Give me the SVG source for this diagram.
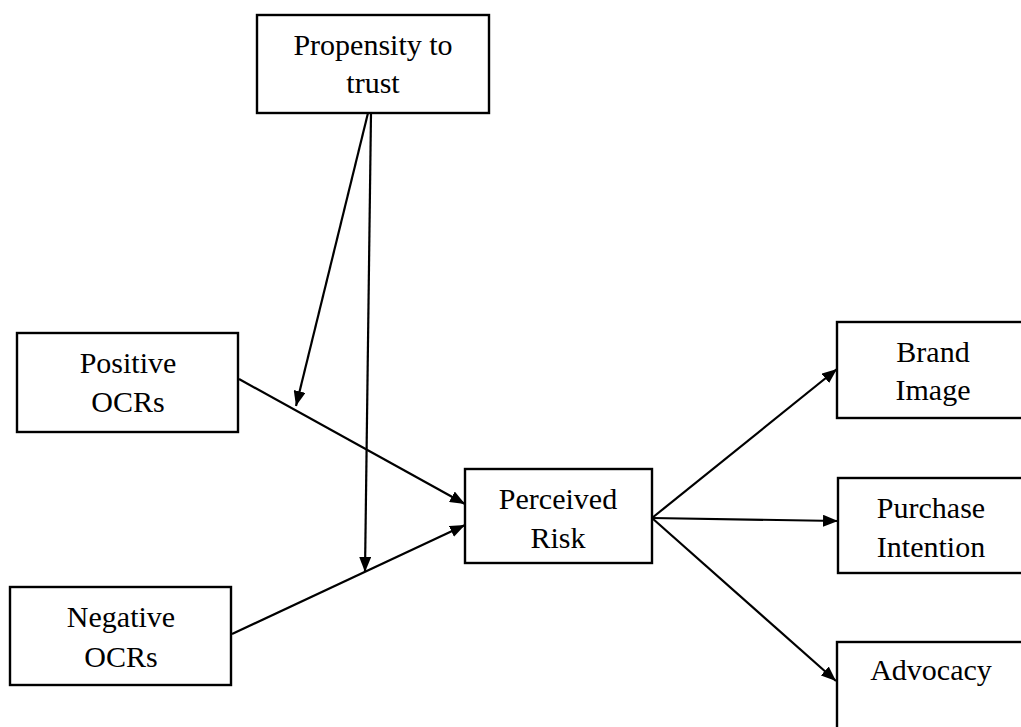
<svg xmlns="http://www.w3.org/2000/svg" width="1021" height="727" viewBox="0 0 1021 727">
<style>
.box{fill:#fff;stroke:#000;stroke-width:2.4}
.t{font-family:"Liberation Serif","Times New Roman",serif;font-size:30px;fill:#000;text-anchor:middle}
.c{stroke:#000;stroke-width:2.2;fill:none;marker-end:url(#ah)}
</style>
<defs>
<marker id="ah" markerUnits="userSpaceOnUse" markerWidth="16" markerHeight="12" refX="15" refY="6" orient="auto">
<path d="M0,0 L15,6 L0,12 Z" fill="#000"/>
</marker>
</defs>
<rect width="1021" height="727" fill="#fff"/>
<g id="connectors">
<line class="c" x1="368" y1="113" x2="296" y2="406"/>
<line class="c" x1="371" y1="113" x2="365" y2="572"/>
<line class="c" x1="239" y1="379" x2="465" y2="504"/>
<line class="c" x1="232" y1="634" x2="465" y2="525"/>
<line class="c" x1="652" y1="518" x2="837" y2="369"/>
<line class="c" x1="652" y1="518" x2="838" y2="521"/>
<line class="c" x1="652" y1="518" x2="836" y2="681"/>
</g>
<g id="propensity">
<rect class="box" x="257" y="15" width="232" height="98"/>
<text class="t" x="373" y="55">Propensity to</text>
<text class="t" x="373" y="93">trust</text>
</g>
<g id="positive">
<rect class="box" x="17" y="333" width="221" height="99"/>
<text class="t" x="128" y="373">Positive</text>
<text class="t" x="128" y="412">OCRs</text>
</g>
<g id="negative">
<rect class="box" x="10" y="587" width="221" height="98"/>
<text class="t" x="121" y="627">Negative</text>
<text class="t" x="121" y="667">OCRs</text>
</g>
<g id="risk">
<rect class="box" x="465" y="469" width="187" height="94"/>
<text class="t" x="558" y="509">Perceived</text>
<text class="t" x="558" y="548">Risk</text>
</g>
<g id="brand">
<rect class="box" x="837" y="322" width="200" height="96"/>
<text class="t" x="933" y="362">Brand</text>
<text class="t" x="933" y="400">Image</text>
</g>
<g id="purchase">
<rect class="box" x="838" y="478" width="200" height="95"/>
<text class="t" x="931" y="518">Purchase</text>
<text class="t" x="931" y="557">Intention</text>
</g>
<g id="advocacy">
<rect class="box" x="837" y="642" width="200" height="100"/>
<text class="t" x="931" y="680">Advocacy</text>
</g>
</svg>
